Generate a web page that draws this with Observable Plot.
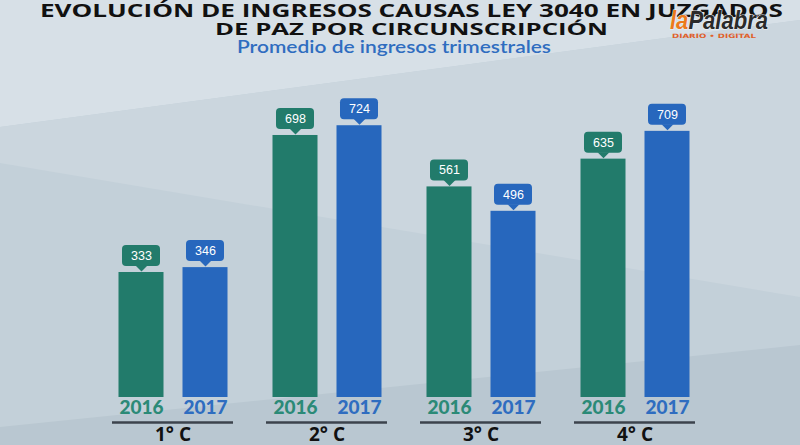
<!DOCTYPE html>
<html>
<head>
<meta charset="utf-8">
<script src="https://cdn.jsdelivr.net/npm/d3@7"></script>
<script src="https://cdn.jsdelivr.net/npm/@observablehq/plot@0.6"></script>
<style>
  html, body { margin: 0; padding: 0; }
  #wrap { position: relative; width: 800px; height: 445px; overflow: hidden; background: #c3d0d9; }
  .bg { position: absolute; left: 0; top: 0; width: 800px; height: 445px; }
  #bgA { background: #d7e0e7; clip-path: polygon(0 0, 800px 0, 800px 20px, 0 127px); }
  #bgB { background: #cbd6de; clip-path: polygon(0 127px, 800px 20px, 800px 297px, 0 163px); }
  #bgC { background: #b9c7d1; clip-path: polygon(0 427px, 800px 345px, 800px 445px, 0 445px); }
  #chart { position: absolute; left: 0; top: 0; }
  #titles { position: absolute; left: 0; top: 0; }
</style>
</head>
<body>
<div id="wrap">
  <div class="bg" id="bgA"></div>
  <div class="bg" id="bgB"></div>
  <div class="bg" id="bgC"></div>
  <div id="chart"></div>
  <svg id="titles" width="800" height="60" xmlns="http://www.w3.org/2000/svg">
    <text x="40" y="16.5" textLength="743" lengthAdjust="spacingAndGlyphs" font-family="'Open Sans', sans-serif" font-weight="700" font-size="17" fill="#111">EVOLUCIÓN DE INGRESOS CAUSAS LEY 3040 EN JUZGADOS</text>
    <text x="215" y="35" textLength="393" lengthAdjust="spacingAndGlyphs" font-family="'Open Sans', sans-serif" font-weight="700" font-size="16.5" fill="#111">DE PAZ POR CIRCUNSCRIPCIÓN</text>
    <text x="237" y="53" textLength="314" lengthAdjust="spacingAndGlyphs" font-family="Lato, sans-serif" font-weight="600" font-size="16.5" fill="#2f6dc0">Promedio de ingresos trimestrales</text>
    <text x="670" y="29" textLength="98" lengthAdjust="spacingAndGlyphs" font-family="'Liberation Sans Narrow', 'Liberation Sans', sans-serif" font-style="italic" font-weight="bold" font-size="25" stroke="#eef2f5" stroke-width="1.2" paint-order="stroke"><tspan fill="#ec7a1c">la</tspan><tspan fill="#2a2a2a">Palabra</tspan></text>
    <text x="672" y="38" textLength="84" lengthAdjust="spacingAndGlyphs" font-family="'DejaVu Sans', sans-serif" font-weight="bold" font-size="6" fill="#e0602a">DIARIO • DIGITAL</text>
  </svg>
</div>
<script>
const circunscripciones = ["1° C", "2° C", "3° C", "4° C"];
const years = ["2016", "2017"];
const values2016 = [333, 698, 561, 635];
const values2017 = [346, 724, 496, 709];
const yearColors = ["#227b6b", "#2767bd"];
const yearTextColors = ["#2b8a77", "#2f6dc0"];

const rows = [];
circunscripciones.forEach((c, i) => {
  rows.push({circ: c, year: years[0], value: values2016[i]});
  rows.push({circ: c, year: years[1], value: values2017[i]});
});

// flat downward-pointing callout arrow
const pointer = {
  draw(ctx, size) {
    const a = Math.sqrt(size / Math.PI);
    ctx.moveTo(-1.5 * a, -a);
    ctx.lineTo(1.5 * a, -a);
    ctx.lineTo(0, 0.5 * a);
    ctx.closePath();
  }
};

const chart = Plot.plot({
  width: 800,
  height: 445,
  marginTop: 96.7,
  marginBottom: 48,
  marginLeft: 95.5,
  marginRight: 88.5,
  style: {background: "transparent", overflow: "visible"},
  facet: {data: rows, x: "circ", marginTop: 0, marginBottom: 0, marginLeft: 0, marginRight: 0},
  fx: {domain: circunscripciones, paddingInner: 0.2143, paddingOuter: 0.1071, axis: null, label: null},
  x: {domain: years, paddingInner: 0.297, paddingOuter: 0.09375, axis: null, label: null},
  y: {domain: [0, 800], axis: null, label: null},
  color: {domain: years, range: yearColors},
  marks: [
    Plot.barY(rows, {x: "year", y: "value", fill: "year"}),
    Plot.barY(rows, {x: "year", y1: "value", y2: "value", fill: "year", insetLeft: 3.5, insetRight: 3.5, insetTop: -10.5, insetBottom: -10.5, dy: -16.5, rx: 4}),
    Plot.dot(rows, {x: "year", y: "value", fill: "year", symbol: pointer, r: 4, dy: -3, stroke: "none"}),
    Plot.text(rows, {x: "year", y: "value", text: d => String(d.value), dy: -16.5, fill: "white", fontSize: 12.5, fontFamily: "'Liberation Sans', Arial, sans-serif"}),
    Plot.text(rows, {x: "year", frameAnchor: "bottom", text: "year", dy: 16, fill: d => yearTextColors[years.indexOf(d.year)], fontSize: 19, fontWeight: "900", letterSpacing: "0.5px", fontFamily: "Lato, sans-serif"}),
    Plot.ruleY([0], {dy: 25, stroke: "#3c434c", strokeWidth: 2.5}),
    Plot.text(rows, {filter: d => d.year === years[0], frameAnchor: "bottom", text: "circ", dy: 43, fill: "#111", fontSize: 19, fontWeight: "bold", fontFamily: "'Open Sans', sans-serif"})
  ]
});
document.getElementById("chart").appendChild(chart);
</script>
</body>
</html>
